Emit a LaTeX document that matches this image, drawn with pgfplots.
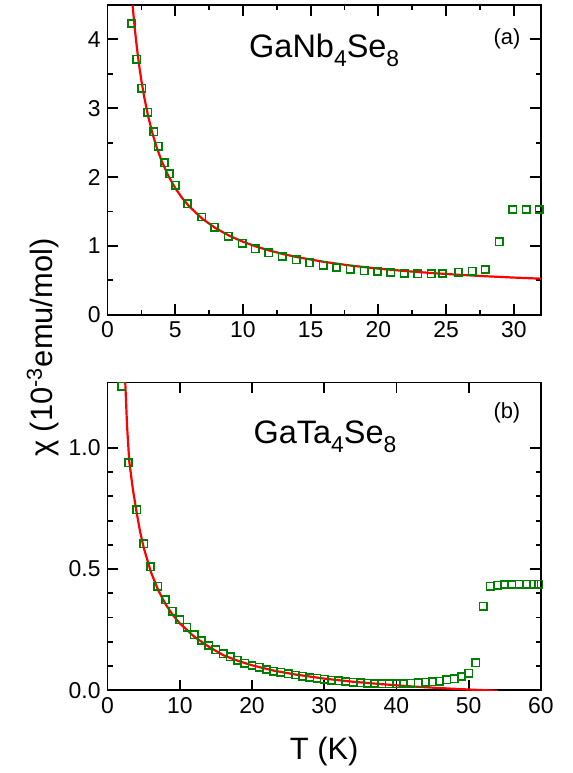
\documentclass[border=0pt]{standalone}
\usepackage{pgfplots}
\pgfplotsset{compat=1.18}
\usepackage{fontspec}
\setmainfont{Liberation Sans}
\definecolor{dgreen}{HTML}{008000}
\definecolor{fitred}{HTML}{FF0000}
\newcommand{\sub}[1]{\raisebox{-4.5pt}{\fontsize{11.5}{12}\selectfont #1}}

\pgfplotsset{
  panel/.style={
    scale only axis, width=217.5pt,
    axis line style={line width=0.9pt},
    tick style={line width=0.9pt, black},
    tick align=inside, xtick pos=both, ytick pos=both,
    major tick length=5.3pt, minor tick length=2.6pt,
    ticklabel style={font=\fontsize{11.5}{12}\selectfont},
    /pgf/number format/assume math mode=true,
  },
  chidata/.style={only marks, mark=square, mark size=1.85pt,
    mark options={draw=dgreen, line width=0.8pt}},
  cwfit/.style={fitred, line width=1.1pt, no marks},
}

\begin{document}
\begin{tikzpicture}
\path (-54pt,-228.5pt) rectangle (233.5pt,158pt);

% (a) GaNb4Se8
\begin{axis}[panel,
    at={(0pt,0pt)}, anchor=south west, height=155.5pt,
    xmin=0, xmax=32, ymin=0, ymax=4.5,
    xtick={0,5,...,30}, minor x tick num=1,
    ytick={0,1,2,3,4}, minor y tick num=1,
]
\addplot[cwfit] coordinates {
(1.85,4.496)(1.9,4.385)(2.0,4.18)(2.1,3.994)(2.2,3.825)(2.35,3.599)(2.5,3.40)
(2.7,3.169)(3.0,2.88)(3.3,2.644)(3.6,2.447)(4.0,2.23)(4.5,2.013)(5.0,1.84)
(5.5,1.698)(6.0,1.58)(7,1.394)(8,1.255)(9,1.147)(10,1.06)(11,0.989)(12,0.93)
(13,0.880)(14,0.837)(16,0.7675)(18,0.713)(20,0.67)(22,0.6345)(24,0.605)
(26,0.580)(28,0.5586)(30,0.54)(32,0.524)};
\addplot[chidata] coordinates {
(1.8,4.23)(2.16,3.71)(2.53,3.29)(2.97,2.94)(3.42,2.66)(3.73,2.45)(4.2,2.21)
(4.57,2.05)(5.01,1.88)(5.9,1.61)(6.95,1.42)(7.89,1.27)(8.92,1.14)(9.93,1.04)
(10.91,0.96)(11.92,0.90)(12.9,0.845)(13.93,0.80)(14.91,0.754)(15.92,0.72)
(16.9,0.686)(17.91,0.662)(18.94,0.638)(19.93,0.628)(20.91,0.614)(21.91,0.604)
(22.9,0.594)(23.9,0.594)(24.74,0.599)(25.92,0.618)(26.93,0.633)(27.89,0.657)
(28.92,1.058)(29.93,1.53)(30.91,1.53)(31.87,1.53)};
\node[anchor=base, font=\fontsize{16.3}{17}\selectfont] at (axis cs:16,3.74) {GaNb\sub{4}Se\sub{8}};
\node[anchor=base, font=\fontsize{11}{12}\selectfont] at (axis cs:29.5,3.93) {(a)};
\end{axis}

% (b) GaTa4Se8
\begin{axis}[panel,
    at={(0pt,-188.5pt)}, anchor=south west, height=154.5pt,
    xmin=0, xmax=60, ymin=0, ymax=1.27,
    xtick={0,10,...,60},
    ytick={0,0.5,1.0}, minor y tick num=4,
    yticklabel style={/pgf/number format/.cd, fixed, fixed zerofill, precision=1},
]
\addplot[cwfit] coordinates {
(2.45,1.27)(2.7,1.09)(3.0,0.945)(3.5,0.83)(4,0.738)(4.5,0.655)(5,0.589)
(6,0.488)(7,0.414)(8,0.357)(9,0.312)(10,0.276)(12,0.221)(14,0.180)(16,0.145)
(18,0.122)(20,0.103)(23,0.081)(26,0.065)(30,0.048)(34,0.035)(38,0.025)
(42,0.016)(46,0.009)(50,0.003)(54,-0.002)};
\addplot[chidata] coordinates {
(1.95,1.255)(2.9,0.938)(4.04,0.744)(5,0.605)(5.96,0.51)(6.97,0.43)(8.03,0.374)
(9,0.326)(10,0.29)(11,0.26)(12,0.229)(13,0.205)(14,0.185)(15,0.167)(16,0.151)
(17,0.138)(18,0.124)(19,0.112)(20,0.102)(21,0.095)(22,0.086)(23,0.079)
(24,0.074)(25,0.068)(26,0.063)(27,0.058)(28,0.053)(29,0.049)(30,0.046)
(31,0.042)(32,0.039)(33,0.036)(34,0.033)(35,0.031)(36,0.029)(37,0.028)
(38,0.027)(39,0.027)(40,0.027)(41,0.028)(42,0.029)(43,0.031)(44,0.033)
(45,0.035)(46,0.038)(47,0.043)(48,0.048)(49,0.057)(50,0.070)(51,0.113)
(52,0.347)(53,0.430)(54,0.434)(55,0.436)(56,0.436)(57,0.437)(58,0.438)
(59,0.438)(59.7,0.438)};
\node[anchor=base, font=\fontsize{16.3}{17}\selectfont] at (axis cs:30.1,1.02) {GaTa\sub{4}Se\sub{8}};
\node[anchor=base, font=\fontsize{11}{12}\selectfont] at (axis cs:55.3,1.12) {(b)};
\end{axis}

\node[anchor=base, font=\fontsize{15.5}{16}\selectfont] at (108.75pt,-223.5pt) {T (K)};
\node[rotate=90, font=\fontsize{15.5}{16}\selectfont] at (-32.5pt,-16.5pt)
  {χ (10\textsuperscript{-3}emu/mol)};
\end{tikzpicture}
\end{document}
